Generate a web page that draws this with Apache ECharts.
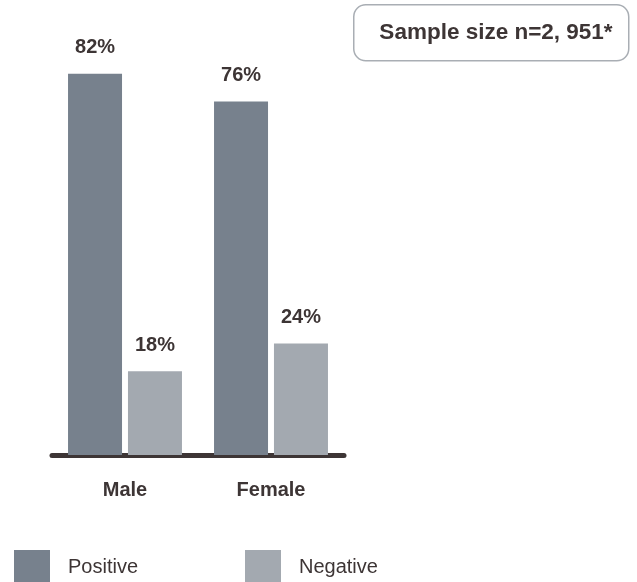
<!DOCTYPE html>
<html>
<head>
<meta charset="utf-8">
<script src="https://cdn.jsdelivr.net/npm/echarts@6/dist/echarts.min.js"></script>
<style>
  html, body { margin: 0; padding: 0; background: #fff; }
  #chart { width: 637px; height: 582px; }
</style>
</head>
<body>
<div id="chart"></div>
<script>
const categories = ['Male', 'Female']
const positiveValues = [82, 76]
const negativeValues = [18, 24]
const seriesNames = ['Positive', 'Negative']
const sampleNote = 'Sample size n=2, 951*'

const TEXT_COLOR = '#3d3535'
const POS_COLOR = '#77818d'
const NEG_COLOR = '#a3a9b0'
const FONT = 'Liberation Sans, Arial, Helvetica, sans-serif'

const chart = echarts.init(document.getElementById('chart'), null, { renderer: 'canvas' })

const valueLabel = {
  show: true,
  position: 'top',
  distance: 16,
  formatter: '{c}%',
  color: TEXT_COLOR,
  fontFamily: FONT,
  fontWeight: 'bold',
  fontSize: 20
}

const legendBase = {
  top: 550,
  padding: 0,
  itemWidth: 36,
  itemHeight: 34,
  icon: 'rect',
  selectedMode: false,
  textStyle: { color: TEXT_COLOR, fontFamily: FONT, fontSize: 20, padding: [0, 0, 0, 13] }
}

chart.setOption({
  animation: false,
  backgroundColor: '#fff',
  grid: { left: 52, width: 292, top: 36.5, bottom: 127 },
  legend: [
    Object.assign({ left: 14, data: [seriesNames[0]] }, legendBase),
    Object.assign({ left: 245, data: [seriesNames[1]] }, legendBase)
  ],
  xAxis: {
    type: 'category',
    data: categories,
    axisTick: { show: false },
    axisLine: { lineStyle: { color: TEXT_COLOR, width: 5, cap: 'round' } },
    axisLabel: {
      color: TEXT_COLOR,
      fontFamily: FONT,
      fontWeight: 'bold',
      fontSize: 20,
      margin: 25
    }
  },
  yAxis: {
    type: 'value',
    min: 0,
    max: 90,
    show: false,
    splitLine: { show: false }
  },
  series: [
    {
      name: seriesNames[0],
      type: 'bar',
      data: positiveValues,
      barWidth: 54,
      barGap: '11%',
      itemStyle: { color: POS_COLOR },
      label: valueLabel
    },
    {
      name: seriesNames[1],
      type: 'bar',
      data: negativeValues,
      barWidth: 54,
      barGap: '11%',
      itemStyle: { color: NEG_COLOR },
      label: valueLabel
    }
  ],
  graphic: [
    {
      type: 'rect',
      left: 353,
      top: 4,
      shape: { width: 275, height: 56, r: 12 },
      style: { fill: '#fff', stroke: '#a9aeb4', lineWidth: 1.5 }
    },
    {
      type: 'text',
      x: 496,
      y: 33,
      style: {
        text: sampleNote,
        fill: TEXT_COLOR,
        font: 'bold 22.5px ' + FONT,
        align: 'center',
        verticalAlign: 'middle'
      }
    }
  ]
})
</script>
</body>
</html>
